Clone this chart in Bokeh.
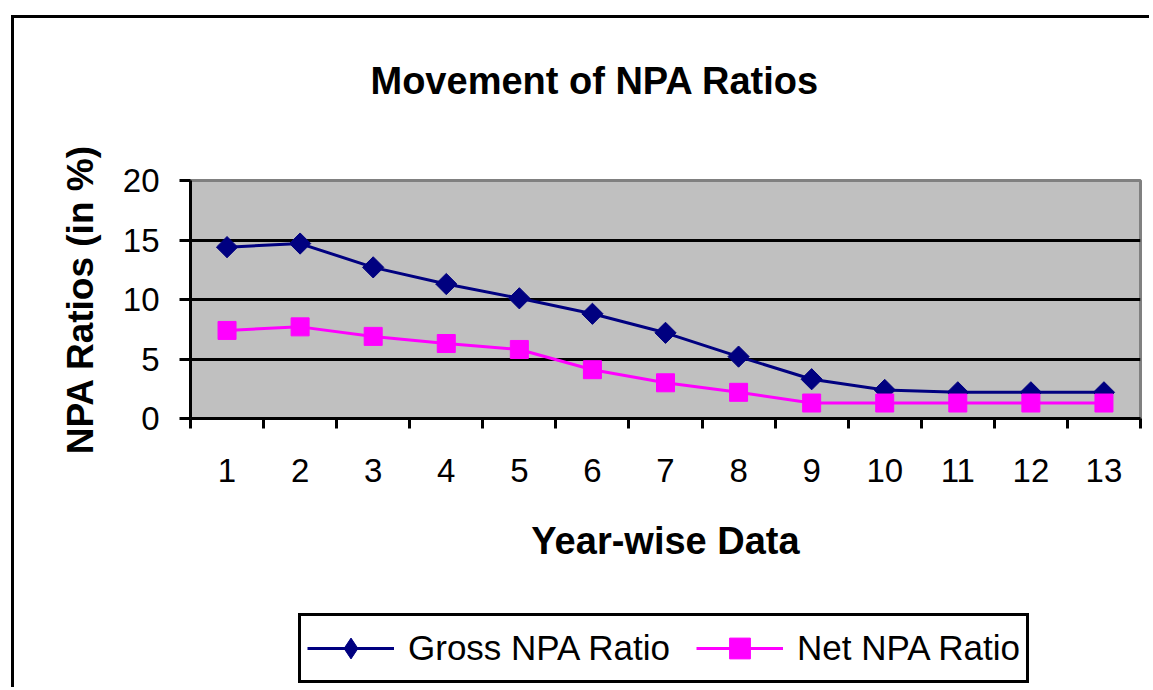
import math
from bokeh.plotting import figure
from bokeh.layouts import column
from bokeh.models import (Range1d, FixedTicker, Legend, LegendItem, Label,
                          ColumnDataSource, InlineStyleSheet)
from bokeh.embed import file_html
from bokeh.resources import INLINE

# ---- data ----
years = [1, 2, 3, 4, 5, 6, 7, 8, 9, 10, 11, 12, 13]
gross_npa = [14.4, 14.7, 12.7, 11.3, 10.1, 8.8, 7.2, 5.2, 3.3, 2.4, 2.2, 2.2, 2.2]
net_npa = [7.4, 7.7, 6.9, 6.3, 5.8, 4.1, 3.0, 2.2, 1.3, 1.3, 1.3, 1.3, 1.3]
series_names = ["Gross NPA Ratio", "Net NPA Ratio"]
chart_title = "Movement of NPA Ratios"
y_ticks = [0, 5, 10, 15, 20]
grid_ticks = [5, 10, 15]
cat_edges = [y - 0.5 for y in years] + [years[-1] + 0.5]

FONT = "Liberation Sans"
NAVY = "#000080"
MAGENTA = "#FF00FF"

src = ColumnDataSource(dict(x=years, gross=gross_npa, net=net_npa))

border_css = InlineStyleSheet(css="""
:host::after {
  content: "";
  position: absolute;
  left: 11px; top: 15px;
  width: 1138px; height: 672px;
  box-sizing: border-box;
  border-left: 3px solid black;
  border-top: 3px solid black;
  pointer-events: none;
  z-index: 100;
}
""")


def strip(height, xr, yr):
    f = figure(width=1150, height=height, output_backend="svg",
               toolbar_location=None, x_range=xr, y_range=yr,
               x_axis_location=None, y_axis_location=None,
               min_border_left=0, min_border_right=0,
               min_border_top=0, min_border_bottom=0)
    f.grid.visible = False
    f.outline_line_color = None
    f.background_fill_color = "white"
    f.border_fill_color = "white"
    return f


# ---- title strip ----
tf = strip(100, Range1d(0, 1), Range1d(0, 1))
tf.add_layout(Label(x=180, y=20, x_units="screen", y_units="screen",
                    text=chart_title, text_align="left",
                    text_baseline="alphabetic", text_font=FONT,
                    text_font_size="38px", text_font_style="bold",
                    text_color="black"))

# ---- main chart ----
p = figure(width=1150, height=500, output_backend="svg", toolbar_location=None,
           x_range=Range1d(0.5, 13.5), y_range=Range1d(0, 20),
           min_border_left=190, min_border_right=10,
           min_border_top=80, min_border_bottom=182)

p.background_fill_color = "#C0C0C0"
p.border_fill_color = "white"
p.outline_line_color = "#808080"
p.outline_line_width = 3

p.xgrid.visible = False
p.ygrid.ticker = FixedTicker(ticks=grid_ticks)
p.ygrid.grid_line_color = "black"
p.ygrid.grid_line_width = 3

# x axis
xa = p.xaxis[0]
xa.ticker = FixedTicker(ticks=years, minor_ticks=cat_edges)
xa.major_tick_out = 0
xa.major_tick_in = 0
xa.minor_tick_out = 10
xa.minor_tick_in = 0
xa.minor_tick_line_width = 3
xa.minor_tick_line_color = "black"
xa.axis_line_width = 3
xa.axis_line_color = "black"
xa.major_label_text_font = FONT
xa.major_label_text_font_size = "33px"
xa.major_label_text_color = "black"
xa.major_label_standoff = 30
xa.axis_label = "Year-wise Data"
xa.axis_label_text_font = FONT
xa.axis_label_text_font_size = "38px"
xa.axis_label_text_font_style = "bold"
xa.axis_label_text_color = "black"
xa.axis_label_standoff = 35

# y axis
ya = p.yaxis[0]
ya.ticker = FixedTicker(ticks=y_ticks)
ya.major_tick_out = 11
ya.major_tick_in = 0
ya.major_tick_line_width = 3
ya.major_tick_line_color = "black"
ya.minor_tick_line_color = None
ya.axis_line_width = 3
ya.axis_line_color = "black"
ya.major_label_text_font = FONT
ya.major_label_text_font_size = "33px"
ya.major_label_text_color = "black"
ya.major_label_standoff = 20
ya.axis_label = "NPA Ratios (in %)"
ya.axis_label_text_font = FONT
ya.axis_label_text_font_size = "37px"
ya.axis_label_text_font_style = "bold"
ya.axis_label_text_color = "black"
ya.axis_label_standoff = 19

# series
p.line("x", "gross", source=src, line_color=NAVY, line_width=3)
p.scatter("x", "gross", source=src, marker="square", angle=math.pi / 4,
          size=15, fill_color=NAVY, line_color=NAVY, line_width=1)
p.line("x", "net", source=src, line_color=MAGENTA, line_width=3)
p.scatter("x", "net", source=src, marker="square", size=18,
          fill_color=MAGENTA, line_color=MAGENTA, line_width=1)

# ---- legend strip: same series & styles, data kept out of its view ----
lf = strip(88, Range1d(100, 101), Range1d(100, 101))
lgl = lf.line("x", "gross", source=src, line_color=NAVY, line_width=3)
lgs = lf.scatter("x", "gross", source=src, marker="diamond",
                 fill_color=NAVY, line_color=NAVY, line_width=1)
lnl = lf.line("x", "net", source=src, line_color=MAGENTA, line_width=3)
lns = lf.scatter("x", "net", source=src, marker="square",
                 fill_color=MAGENTA, line_color=MAGENTA, line_width=1)

legend = Legend(items=[LegendItem(label=series_names[0], renderers=[lgl, lgs]),
                       LegendItem(label=series_names[1], renderers=[lnl, lns])],
                orientation="horizontal", location=(108, 5),
                padding=6, glyph_width=87, glyph_height=52,
                label_standoff=14, spacing=26, margin=0,
                label_text_font=FONT, label_text_font_size="35px",
                label_text_color="black",
                border_line_color="black", border_line_width=3,
                border_line_alpha=1.0,
                background_fill_color="white", background_fill_alpha=1.0)
lf.add_layout(legend, "center")

layout = column(tf, p, lf, spacing=0, stylesheets=[border_css])

open("out.html", "w").write(file_html(layout, INLINE))
